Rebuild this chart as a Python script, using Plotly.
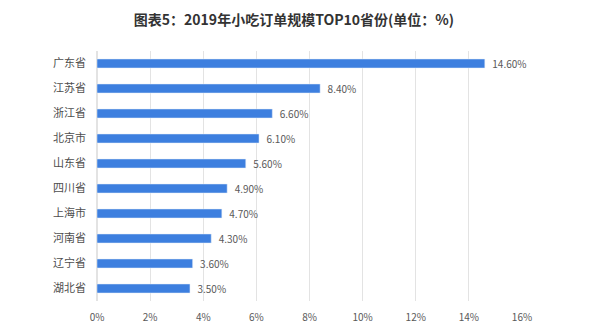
import plotly.graph_objects as go

provinces = ["广东省", "江苏省", "浙江省", "北京市", "山东省", "四川省", "上海市", "河南省", "辽宁省", "湖北省"]
shares = [14.6, 8.4, 6.6, 6.1, 5.6, 4.9, 4.7, 4.3, 3.6, 3.5]
x_ticks = [0, 2, 4, 6, 8, 10, 12, 14, 16]
x_tick_text = [f"{v}%" for v in x_ticks]

font_family = "Noto Sans CJK SC, Noto Sans, sans-serif"

fig = go.Figure(
    go.Bar(
        x=shares,
        y=provinces,
        orientation="h",
        width=0.36,
        marker=dict(color="#3D7FDF"),
        text=[f"&nbsp;&nbsp;{v:.2f}%" for v in shares],
        textposition="outside",
        constraintext="none",
        textfont=dict(size=10, color="#595959", family=font_family),
        cliponaxis=False,
    )
)

fig.update_layout(
    width=600,
    height=328,
    margin=dict(l=97, r=78, t=51, b=27),
    paper_bgcolor="white",
    plot_bgcolor="white",
    showlegend=False,
    title=dict(
        text="<b>图表5：2019年小吃订单规模TOP10省份(单位：%)</b>",
        x=0.49,
        xanchor="center",
        y=0.94,
        yanchor="middle",
        font=dict(size=14, color="#333333", family=font_family),
    ),
    xaxis=dict(
        range=[0, 16],
        tickvals=x_ticks,
        ticktext=x_tick_text,
        showgrid=True,
        gridcolor="#E3E3E3",
        gridwidth=1,
        zeroline=True,
        zerolinecolor="#E3E3E3",
        showline=False,
        tickfont=dict(size=10, color="#595959", family=font_family),
        ticks="",
        ticklabelstandoff=9,
        automargin=False,
    ),
    yaxis=dict(
        categoryorder="array",
        categoryarray=provinces[::-1],
        showgrid=False,
        ticks="",
        ticklabelstandoff=10,
        automargin=False,
        tickfont=dict(size=11, color="#4D4D4D", family=font_family),
    ),
)

fig.write_html("out.html")
